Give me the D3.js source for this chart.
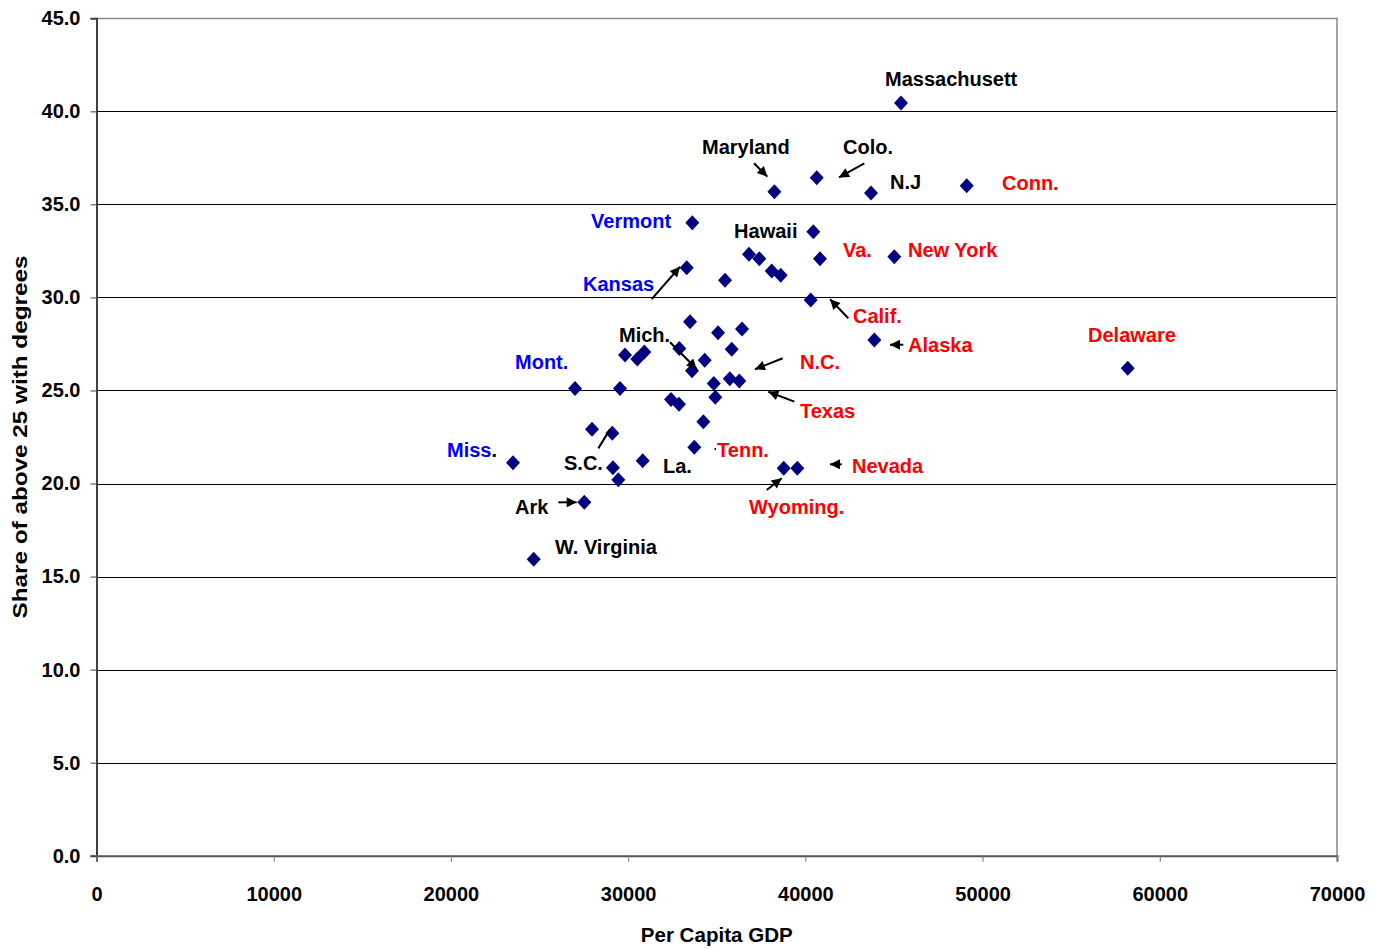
<!DOCTYPE html>
<html><head><meta charset="utf-8">
<script src="https://cdn.jsdelivr.net/npm/d3@7"></script>
<style>
html,body{margin:0;padding:0;background:#fff;}
text{font-family:"Liberation Sans",Arial,sans-serif;font-weight:bold;}
</style></head>
<body>
<svg id="chart" width="1379" height="949"></svg>
<script>
// Per capita GDP (x) and share of population above 25 with degrees (y)
const gdp = [45398,38252,40642,43705,49106,33621,40450,40827,45020,33305,
  36820,37403,38101,38609,35467,40302,43893,58191,
  33493,35073,36427,35844,32888,34320,33604,29823,30518,30913,27002,29541,
  34834,35737,36274,34920,32419,32870,34245,27962,29107,
  33735,23503,29141,30822,29446,38779,39546,27526,24671];
const share = [40.45,35.68,36.43,35.61,36.0,34.01,33.53,32.08,32.19,31.6,
  32.32,32.08,31.42,31.19,30.92,29.86,27.71,26.19,
  28.69,28.1,28.3,27.21,27.26,26.62,26.06,26.9,26.69,27.07,25.1,25.1,
  25.38,25.63,25.51,24.63,24.52,24.26,23.32,22.91,22.7,
  21.95,21.12,20.85,21.23,20.2,20.82,20.82,18.99,15.93];

const yTicks = [0,5,10,15,20,25,30,35,40,45];
const xTicks = [0,10000,20000,30000,40000,50000,60000,70000];

// Annotation labels (text, colour, anchor in data units: gdp, share at label middle-left)
const labelText  = ["Massachusett","Maryland","Colo.","N.J","Conn.","Vermont","Hawaii","Va.","New York","Kansas",
  "Calif.","Mich.","Alaska","Delaware","Mont.","N.C.","Texas","Miss","Tenn.","S.C.","La.","Nevada","Ark","Wyoming.","W. Virginia"];
const labelColor = ["black","black","black","black","red","blue","black","red","red","blue",
  "red","black","red","red","blue","red","red","blue","red","black","black","red","black","red","black"];
const labelGdp   = [44494,34168,42125,44777,51097,27905,35980,42125,45793,27453,
  42689,29485,45793,55951,23616,39699,39699,19779,35018,26381,31968,42633,23616,36822,25873];
const labelShare = [41.74,38.08,38.08,36.2,36.15,34.1,33.56,32.55,32.55,30.72,
  29.0,27.98,27.44,27.98,26.53,26.53,23.89,21.8,21.8,21.1,20.94,20.94,18.74,18.74,16.59];

// Arrows (from -> to, data units); head flag
const arrowX1 = [37105,43327,31330,42424,45527,32363,38722,39377,28317,42052,26060,37820,34870];
const arrowY1 = [37.21,37.21,29.91,28.88,27.46,27.59,26.73,24.4,21.89,21.03,18.99,19.65,21.86];
const arrowX2 = [37854,41900,32927,41392,44777,33870,37159,37910,28977,41392,27098,38666,34960];
const arrowY2 = [36.49,36.45,31.65,29.9,27.46,26.15,26.14,24.93,22.91,21.03,18.99,20.28,21.86];
const arrowHead = [1,1,1,1,1,1,1,1,0,1,1,1,0];

const svg = d3.select("#chart");
const x = d3.scaleLinear().domain([0,70000]).range([96.5,1337]);
const y = d3.scaleLinear().domain([0,45]).range([855.7,18.3]);

svg.append("defs").append("marker")
  .attr("id","ah").attr("viewBox","0 0 10 10").attr("refX",10).attr("refY",5)
  .attr("markerUnits","userSpaceOnUse").attr("markerWidth",12).attr("markerHeight",10)
  .attr("orient","auto")
  .append("path").attr("d","M0,0 L10,5 L0,10 Z").attr("fill","black");

// gridlines
svg.append("g").selectAll("line").data(yTicks.filter(d=>d>0 && d<45)).join("line")
  .attr("x1",x(0)).attr("x2",x(70000))
  .attr("y1",d=>Math.round(y(d))+0.5).attr("y2",d=>Math.round(y(d))+0.5)
  .attr("stroke","#000").attr("stroke-width",1);

// plot border top/right
svg.append("path")
  .attr("d",`M${x(0)},${Math.round(y(45))+0.5} H${x(70000)} V${y(0)}`)
  .attr("fill","none").attr("stroke","#888").attr("stroke-width",1.5);

// y axis
const yAxis = d3.axisLeft(y).tickValues(yTicks).tickSize(6).tickPadding(10).tickFormat(d3.format(".1f"));
const gy = svg.append("g").attr("transform",`translate(${x(0)},0)`).call(yAxis);
gy.select(".domain").attr("stroke","#404040").attr("stroke-width",2);
gy.selectAll(".tick line").attr("stroke","#404040");
gy.selectAll(".tick text").attr("font-size",20).attr("fill","#000")
  .attr("font-family","Liberation Sans, Arial, sans-serif").attr("font-weight","bold");

// x axis
const xAxis = d3.axisBottom(x).tickValues(xTicks).tickSize(6).tickPadding(25).tickFormat(d3.format("d"));
const gx = svg.append("g").attr("transform",`translate(0,${y(0)})`).call(xAxis);
gx.select(".domain").attr("stroke","#555").attr("stroke-width",2);
gx.selectAll(".tick line").attr("stroke","#777");
gx.selectAll(".tick text").attr("font-size",20).attr("fill","#000")
  .attr("font-family","Liberation Sans, Arial, sans-serif").attr("font-weight","bold");

// axis titles
svg.append("text").attr("x",(x(0)+x(70000))/2).attr("y",942).attr("text-anchor","middle")
  .attr("font-size",20).attr("fill","#000")
  .attr("textLength",152).attr("lengthAdjust","spacingAndGlyphs").text("Per Capita GDP");
svg.append("text").attr("transform",`translate(27,${(y(0)+y(45))/2}) rotate(-90)`)
  .attr("text-anchor","middle").attr("font-size",20).attr("fill","#000")
  .attr("textLength",363).attr("lengthAdjust","spacingAndGlyphs")
  .text("Share of above 25 with degrees");

// points
const pts = gdp.map((g,i)=>({g, s:share[i]}));
svg.append("g").selectAll("path").data(pts).join("path")
  .attr("transform",d=>`translate(${x(d.g)},${y(d.s)})`)
  .attr("d","M0,-7.5 L7,0 L0,7.5 L-7,0 Z")
  .attr("fill","#000080");

// arrows
const arrows = arrowX1.map((v,i)=>({x1:v,y1:arrowY1[i],x2:arrowX2[i],y2:arrowY2[i],h:arrowHead[i]}));
svg.append("g").selectAll("line").data(arrows).join("line")
  .attr("x1",d=>x(d.x1)).attr("y1",d=>y(d.y1)).attr("x2",d=>x(d.x2)).attr("y2",d=>y(d.y2))
  .attr("stroke","black").attr("stroke-width",2)
  .attr("marker-end",d=>d.h? "url(#ah)" : null);

// labels
const labels = labelText.map((t,i)=>({t, c:labelColor[i], g:labelGdp[i], s:labelShare[i]}));
const lt = svg.append("g").selectAll("text").data(labels).join("text")
  .attr("x",d=>x(d.g)).attr("y",d=>y(d.s)).attr("dy","0.36em")
  .attr("font-size",20).attr("fill",d=>d.c).text(d=>d.t);
// black period after "Miss"
lt.filter(d=>d.t==="Miss").append("tspan").attr("fill","black").text(".");
</script>
</body></html>
